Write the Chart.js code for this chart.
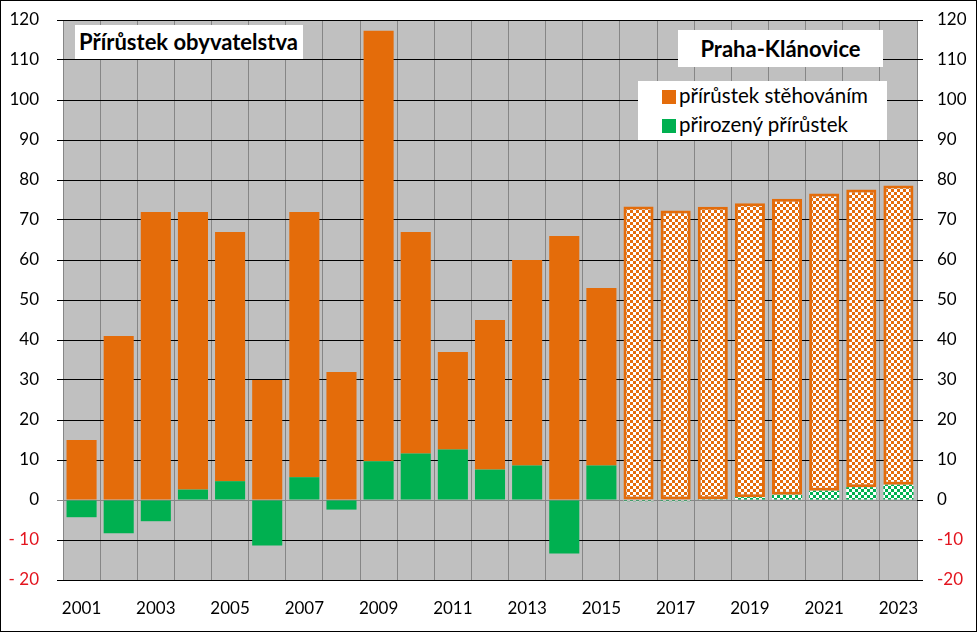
<!DOCTYPE html>
<html>
<head>
<meta charset="utf-8">
<script src="https://cdn.jsdelivr.net/npm/chart.js@4"></script>
<style>
  html, body { margin: 0; padding: 0; background: #fff; }
  #wrap { position: relative; width: 977px; height: 632px; overflow: hidden; }
  #frame { position: absolute; left: 0; top: 0; width: 977px; height: 632px; box-sizing: border-box; border: 1px solid #000; pointer-events: none; }
  .box { position: absolute; background: #fff; font-family: Lato, "Open Sans", sans-serif; color: #000; box-sizing: border-box; }
  #title { left: 75px; top: 25px; width: 228px; height: 34px; font-weight: bold; font-size: 22px; line-height: 34px; padding-left: 4px; white-space: nowrap; }
  #place { left: 678px; top: 30px; width: 205px; height: 37px; font-weight: bold; font-size: 22px; line-height: 37px; text-align: center; white-space: nowrap; }
  #legend { left: 638px; top: 81px; width: 249px; height: 59px; font-size: 20.5px; }
  .li { position: absolute; left: 24px; height: 24px; line-height: 24px; white-space: nowrap; }
  .sw { display: inline-block; width: 14px; height: 14px; vertical-align: -1px; margin-right: 3px; }
</style>
</head>
<body>
<div id="wrap">
  <canvas id="c" width="977" height="632"></canvas>
  <div class="box" id="title">Přírůstek obyvatelstva</div>
  <div class="box" id="place">Praha-Klánovice</div>
  <div class="box" id="legend">
    <div class="li" style="top:2px"><span class="sw" style="background:#E46C0A"></span>přírůstek stěhováním</div>
    <div class="li" style="top:31px"><span class="sw" style="background:#00B050"></span>přirozený přírůstek</div>
  </div>
  <div id="frame"></div>
</div>
<script>
// ---- data ----
const years = ['2001','2002','2003','2004','2005','2006','2007','2008','2009','2010','2011','2012',
               '2013','2014','2015','2016','2017','2018','2019','2020','2021','2022','2023'];
const migration = [15, 41, 72, 69.4, 62.3, 30, 66.3, 32, 107.6, 55.4, 24.4, 37.4,
                   51.4, 66, 44.4, 73.4, 72.4, 73.1, 73.5, 74, 74.3, 74.4, 74.8];
const natural = [-4.3, -8.3, -5.3, 2.6, 4.7, -11.4, 5.7, -2.4, 9.7, 11.6, 12.6, 7.6,
                 8.6, -13.4, 8.6, -0.3, -0.3, 0.2, 0.7, 1.3, 2.3, 3.2, 3.8];
const projectedFrom = '2016';
const labelMigration = 'přírůstek stěhováním';
const labelNatural = 'přirozený přírůstek';

// ---- styling ----
const ORANGE = '#E46C0A';
const GREEN = '#00B050';
const RED = '#E3141E';
const FONT = 'Lato, "Open Sans", sans-serif';

function checker(color) {
  const c = document.createElement('canvas');
  c.width = 6; c.height = 6;
  const x = c.getContext('2d');
  x.fillStyle = '#fff'; x.fillRect(0, 0, 6, 6);
  x.fillStyle = color; x.fillRect(0, 0, 3, 3); x.fillRect(3, 3, 3, 3);
  return x.createPattern(c, 'repeat');
}
const projIdx = years.indexOf(projectedFrom);
const isProj = i => i >= projIdx;
const orangePat = checker(ORANGE);
const greenPat = checker(GREEN);

const fitY = w => s => { s.width = w; s.paddingTop = 0; s.paddingBottom = 0; };

const chart = new Chart(document.getElementById('c'), {
  type: 'bar',
  data: {
    labels: years,
    datasets: [
      {
        label: labelNatural,
        data: natural,
        backgroundColor: years.map((y, i) => isProj(i) ? greenPat : GREEN),
        borderWidth: 0,
        stack: 's',
        categoryPercentage: 1,
        barPercentage: 0.81
      },
      {
        label: labelMigration,
        data: migration,
        backgroundColor: years.map((y, i) => isProj(i) ? orangePat : ORANGE),
        borderColor: ORANGE,
        borderWidth: years.map((y, i) => isProj(i) ? 3 : 0),
        borderSkipped: false,
        stack: 's',
        categoryPercentage: 1,
        barPercentage: 0.81
      }
    ]
  },
  options: {
    responsive: false,
    animation: false,
    events: [],
    layout: { padding: { top: 20, left: 0, right: 0, bottom: 0 } },
    plugins: { legend: { display: false }, tooltip: { enabled: false } },
    scales: {
      x: {
        stacked: true,
        grid: { offset: true, color: '#868686', lineWidth: 1, drawTicks: false },
        border: { display: false },
        ticks: {
          autoSkip: false, maxRotation: 0, padding: 18,
          color: '#000', font: { family: FONT, size: 17 },
          callback: function (v, i) { return i % 2 === 0 ? this.getLabelForValue(v) : ''; }
        },
        afterFit: s => { s.height = 52; }
      },
      y: {
        stacked: true,
        position: 'left',
        min: -20, max: 120,
        grid: { color: ctx => (ctx.tick && ctx.tick.value === 0) ? '#868686' : '#000', lineWidth: 1, tickLength: 6 },
        border: { display: false },
        ticks: {
          stepSize: 10, padding: 18,
          color: ctx => ctx.tick.value < 0 ? RED : '#000',
          font: { family: FONT, size: 17 },
          callback: v => v < 0 ? '- ' + Math.abs(v) : String(v)
        },
        afterFit: fitY(63)
      },
      y2: {
        position: 'right',
        min: -20, max: 120,
        grid: { drawOnChartArea: false, color: '#000', tickLength: 6 },
        border: { display: false },
        ticks: {
          stepSize: 10, padding: 14,
          color: ctx => ctx.tick.value < 0 ? RED : '#000',
          font: { family: FONT, size: 17 },
          callback: v => String(v)
        },
        afterFit: fitY(60)
      }
    }
  },
  plugins: [{
    id: 'plotBg',
    beforeDraw(ch) {
      const a = ch.chartArea, g = ch.ctx;
      g.save(); g.fillStyle = '#C0C0C0';
      g.fillRect(a.left, a.top, a.right - a.left, a.bottom - a.top);
      g.restore();
    }
  }]
});
</script>
</body>
</html>
